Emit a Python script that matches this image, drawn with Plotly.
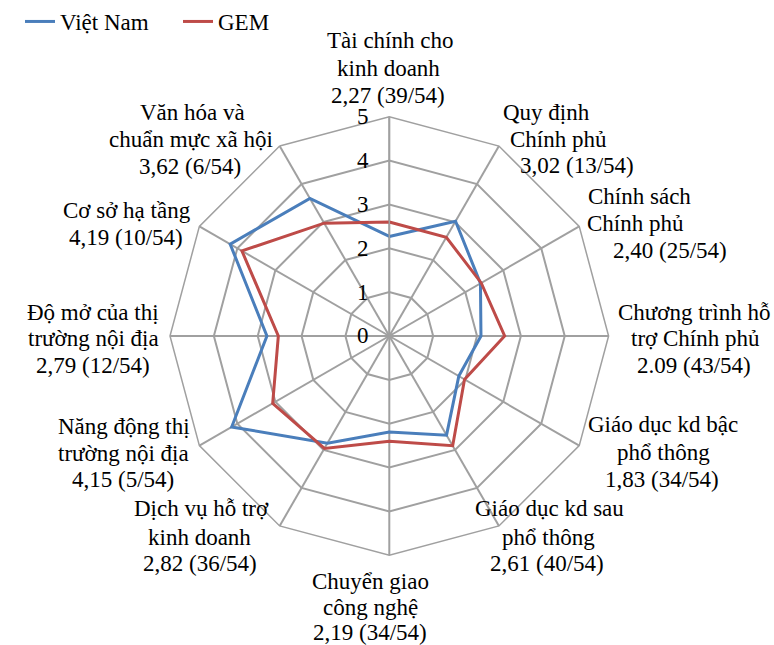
import plotly.graph_objects as go

# Category names, split into the lines used for their labels
category_lines = [
    ["Tài chính cho", "kinh doanh"],
    ["Quy định", "Chính phủ"],
    ["Chính sách", "Chính phủ"],
    ["Chương trình hỗ", "trợ Chính phủ"],
    ["Giáo dục kd bậc", "phổ thông"],
    ["Giáo dục kd sau", "phổ thông"],
    ["Chuyển giao", "công nghệ"],
    ["Dịch vụ hỗ trợ", "kinh doanh"],
    ["Năng động thị", "trường nội địa"],
    ["Độ mở của thị", "trường nội địa"],
    ["Cơ sở hạ tầng"],
    ["Văn hóa và", "chuẩn mực xã hội"],
]
categories = [" ".join(lines) for lines in category_lines]

# Việt Nam scores as printed, and rank out of 54 economies
vn_score_text = ["2,27", "3,02", "2,40", "2.09", "1,83", "2,61",
                 "2,19", "2,82", "4,15", "2,79", "4,19", "3,62"]
vn_rank = ["39/54", "13/54", "25/54", "43/54", "34/54", "40/54",
           "34/54", "36/54", "5/54", "12/54", "10/54", "6/54"]
vn_values = [float(s.replace(",", ".")) for s in vn_score_text]

# GEM average scores
gem_values = [2.60, 2.60, 2.42, 2.63, 1.98, 2.89,
              2.40, 2.96, 3.07, 2.53, 3.88, 2.97]

radial_ticks = [0, 1, 2, 3, 4, 5]

W, H = 774, 645
FONT = "Liberation Serif"
GRID = "#A0A0A0"

# label line centres in pixels, one (x, y) per line
label_pos = [
    [(390, 41), (388, 68), (388, 95)],
    [(546, 113), (558, 140), (577, 166)],
    [(639, 196), (635, 223), (670, 250)],
    [(694, 312), (695, 338), (694, 365)],
    [(663, 425), (663, 452), (662, 479)],
    [(549, 508), (548, 537), (547, 563)],
    [(370, 581), (370, 607), (370, 632)],
    [(201, 508), (200, 537), (200, 563)],
    [(124, 426), (124, 453), (123, 479)],
    [(93, 312), (93, 338), (93, 365)],
    [(127, 210), (126, 237)],
    [(192, 113), (191, 140), (190, 167)],
]

fig = go.Figure()
fig.add_trace(go.Scatterpolar(
    r=vn_values + vn_values[:1],
    theta=categories + categories[:1],
    mode="lines",
    name="Việt Nam",
    line=dict(color="#4A7EBB", width=3),
))
fig.add_trace(go.Scatterpolar(
    r=gem_values + gem_values[:1],
    theta=categories + categories[:1],
    mode="lines",
    name="GEM",
    line=dict(color="#BE4B48", width=3),
))

annotations = []
for lines, score, rank, pos in zip(category_lines, vn_score_text, vn_rank, label_pos):
    texts = lines + [f"{score} ({rank})"]
    for t, (px, py) in zip(texts, pos):
        annotations.append(dict(
            text=t, x=px / W, y=1 - py / H, xref="paper", yref="paper",
            xanchor="center", yanchor="middle", showarrow=False,
            font=dict(family=FONT, size=23, color="#000000"),
        ))

cx, cy, R = 389.3, 336.0, 219.3
fig.update_layout(
    width=W, height=H,
    margin=dict(l=0, r=0, t=0, b=0),
    paper_bgcolor="white",
    font=dict(family=FONT, size=23, color="#000000"),
    showlegend=True,
    legend=dict(
        orientation="h", x=20 / W, y=1.0, xanchor="left", yanchor="top",
        entrywidth=113,
        font=dict(family=FONT, size=23, color="#000000"),
        bgcolor="rgba(0,0,0,0)",
    ),
    polar=dict(
        domain=dict(x=[(cx - R) / W, (cx + R) / W],
                    y=[1 - (cy + R) / H, 1 - (cy - R) / H]),
        bgcolor="white",
        gridshape="linear",
        angularaxis=dict(
            direction="clockwise", rotation=90,
            showticklabels=False, ticks="",
            showgrid=True, gridcolor=GRID, gridwidth=1.5,
            showline=True, linecolor=GRID, linewidth=1.5,
        ),
        radialaxis=dict(
            range=[0, 5], tickvals=radial_ticks, angle=90, tickangle=90,
            side="counterclockwise",
            showgrid=True, gridcolor=GRID, gridwidth=1.5,
            showline=True, linecolor=GRID, linewidth=1.5,
            ticks="outside", ticklen=12, tickcolor="rgba(0,0,0,0)",
            tickfont=dict(family=FONT, size=23, color="#000000"),
        ),
    ),
    annotations=annotations,
)

fig.write_html("out.html")
